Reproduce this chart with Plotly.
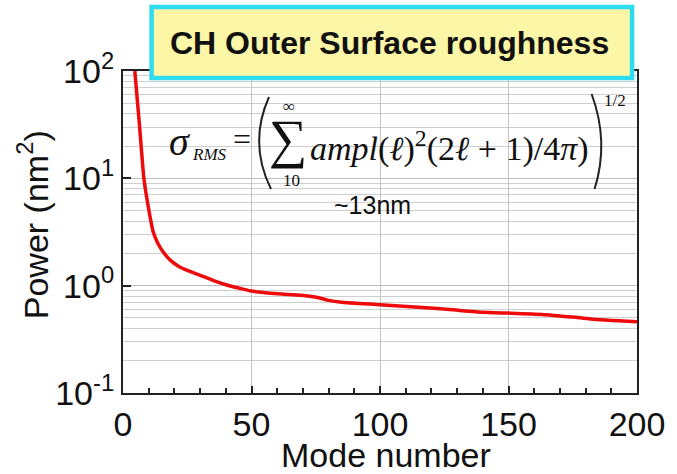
import plotly.graph_objects as go

# ---- data ----
mode_number = [4.6, 6.5, 8.1, 9.7, 11.7, 13.5, 15.5, 18.5, 21.9, 25.5, 29.6, 35, 40, 45, 50,
               60.4, 69.2, 75.8, 80, 85, 100, 115, 127, 140, 150, 163, 175, 182, 200]
power = [100, 29.5, 10.1, 5.67, 3.2, 2.5, 2.08, 1.72, 1.5, 1.37, 1.26, 1.12, 1.02, 0.95, 0.89,
         0.84, 0.815, 0.775, 0.73, 0.70, 0.665, 0.63, 0.60, 0.565, 0.555, 0.54, 0.51, 0.49, 0.46]

y_tick_vals = [0.1, 1, 10, 100]
y_tick_text = ["10<sup>-1</sup>", "10<sup>0</sup>", "10<sup>1</sup>", "10<sup>2</sup>"]
x_tick_vals = [0, 50, 100, 150, 200]

W, H = 677, 474
ML, MR, MT, MB = 123, 33, 71, 81
PW, PH = W - ML - MR, H - MT - MB


def px(x):
    return (x - ML) / PW


def py(y):
    return (H - MB - y) / PH


fig = go.Figure()
fig.add_trace(go.Scatter(x=mode_number, y=power, mode="lines",
                         line=dict(color="#ee0a0a", width=3.5, shape="spline", smoothing=0.5),
                         showlegend=False, hoverinfo="skip"))

tick_font = dict(family="Liberation Sans, Arial, sans-serif", size=34, color="#111111")

fig.update_layout(
    width=W, height=H,
    margin=dict(l=ML, r=MR, t=MT, b=MB, pad=0),
    paper_bgcolor="white", plot_bgcolor="white",
    xaxis=dict(range=[0, 200], tickvals=x_tick_vals, ticks="inside", ticklen=7, tickwidth=1.5,
               tickcolor="#222", showline=True, linecolor="#222", linewidth=2, mirror=True,
               showgrid=True, gridcolor="#c4c4c4", gridwidth=1, zeroline=False,
               tickfont=tick_font,
               minor=dict(dtick=10, ticks="inside", ticklen=5, tickcolor="#222", showgrid=False)),
    yaxis=dict(type="log", range=[-1, 2], tickvals=y_tick_vals, ticktext=y_tick_text,
               ticks="inside", ticklen=8, tickwidth=1.5, tickcolor="#222",
               showline=True, linecolor="#222", linewidth=2, mirror=True,
               showgrid=True, gridcolor="#bdbdbd", gridwidth=1, zeroline=False,
               tickfont=tick_font,
               minor=dict(dtick="D1", ticks="", showgrid=True, gridcolor="#cfcfcf", gridwidth=1)),
)

shapes = []
# title box
shapes.append(dict(type="rect", xref="paper", yref="paper",
                   x0=px(152), x1=px(639), y0=py(78), y1=py(7),
                   fillcolor="#fcf6a7", line=dict(color="#2fdcef", width=4.5), layer="above"))


def paren(p0, c, p1):
    return "M {} {} Q {} {} {} {}".format(px(p0[0]), py(p0[1]), px(c[0]), py(c[1]), px(p1[0]), py(p1[1]))


shapes.append(dict(type="path", xref="paper", yref="paper",
                   path=paren((271, 97), (250, 143), (273, 189)),
                   line=dict(color="#222", width=2), layer="above"))
shapes.append(dict(type="path", xref="paper", yref="paper",
                   path=paren((598, 94), (616, 142), (601, 189)),
                   line=dict(color="#222", width=2), layer="above"))
fig.update_layout(shapes=shapes)

serif = "Liberation Serif, Times New Roman, serif"
sans = "Liberation Sans, Arial, sans-serif"


def ann(text, x, y, size, family=serif, xanchor="center", yanchor="middle", angle=0, color="#111"):
    fig.add_annotation(text=text, x=px(x), y=py(y), xref="paper", yref="paper",
                       xanchor=xanchor, yanchor=yanchor, showarrow=False, textangle=angle,
                       font=dict(family=family, size=size, color=color))


# title
ann("<b>CH Outer Surface roughness</b>", 393, 43, 32, family=sans, color="#111")
# axis titles
ann("Power (nm<sup>2</sup>)", 31, 225, 34, family=sans, angle=-90)
ann("Mode number", 390, 455, 34, family=sans)
# formula
ann("<i>σ</i>", 180, 141, 40)
ann("<i>RMS</i>", 191, 154, 17, xanchor="left")
ann("=", 244, 139, 32)
ann("∑", 291, 139, 54)
ann("∞", 291, 106, 17)
ann("10", 294, 180, 17)
ann("<i>ampl</i>(<i>ℓ</i>)<sup>2</sup>(2<i>ℓ</i> + 1)/4<i>π</i>)", 311, 146, 34, xanchor="left")
ann("1/2", 609, 101, 17, xanchor="left")
ann("~13nm", 376, 205, 25, family=sans)

fig.write_html("out.html", config={"displayModeBar": False},
               post_script="document.body.style.margin='0';document.body.style.overflow='hidden';")
